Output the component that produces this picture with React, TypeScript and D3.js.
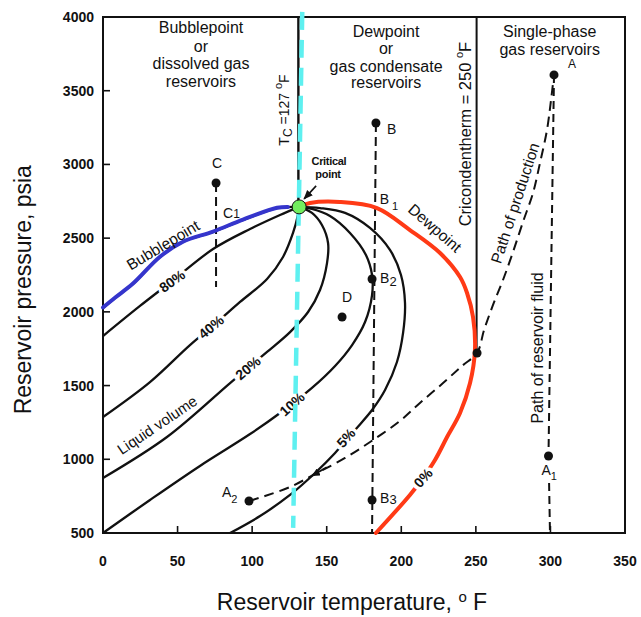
import React from "react";
import * as d3 from "d3";

type Pt = [number, number];

const W = 641;
const H = 617;
const xDomain: Pt = [0, 350];
const yDomain: Pt = [500, 4000];
const xTicks = [0, 50, 100, 150, 200, 250, 300, 350];
const yTicks = [500, 1000, 1500, 2000, 2500, 3000, 3500, 4000];

// Phase envelope (°F, psia)
const criticalPoint: Pt = [131.5, 2712];
const bubblepoint: Pt[] = [[0, 2026], [8, 2094], [20.1, 2189], [38.2, 2372], [53.6, 2474], [73.8, 2542], [93.9, 2623], [116.7, 2704], [131.5, 2712]];
const bubblepointHighlight: Pt[] = [[0, 2030], [8, 2096], [20.1, 2192], [38.2, 2374], [53.6, 2476], [73.8, 2545], [93.9, 2626], [116.7, 2706], [124, 2712]];
const dewpoint: Pt[] = [[131.5, 2712], [138.8, 2738], [158.9, 2745], [183.7, 2704], [205.8, 2555], [226, 2399], [239.4, 2236], [244.1, 2128], [248.1, 1965], [249.4, 1741], [246.1, 1517], [239.4, 1314], [230.7, 1151], [222.6, 995], [214.6, 873], [205.8, 758], [183, 500]];

// Liquid-volume quality lines
const q80: Pt[] = [[0, 1836], [24.8, 2040], [46.3, 2209], [73.8, 2426], [98.6, 2562], [118.7, 2657], [131.5, 2712]];
const q40: Pt[] = [[0, 1287], [31.5, 1524], [58.3, 1775], [75.1, 1918], [91.9, 2067], [110, 2223], [120.7, 2372], [127.4, 2535], [130.7, 2657], [131.5, 2712]];
const q20: Pt[] = [[0, 873], [42.9, 1151], [85.2, 1517], [97.2, 1619], [110, 1728], [125.4, 1863], [137.5, 1999], [145.5, 2148], [150.2, 2331], [150.9, 2467], [146.8, 2589], [140.1, 2671], [131.5, 2712]];
const q10: Pt[] = [[0, 500], [31.5, 724], [65, 955], [98.6, 1171], [118.7, 1314], [140.1, 1484], [155.6, 1633], [167, 1775], [175.7, 1931], [180.4, 2114], [180.4, 2250], [176.3, 2386], [165.6, 2535], [152.2, 2650], [140.1, 2698], [131.5, 2712]];
const q5: Pt[] = [[85.2, 500], [105.3, 615], [125.4, 758], [142.2, 907], [155.6, 1043], [169, 1199], [180.4, 1334], [189.1, 1470], [197.1, 1660], [201.2, 1857], [202.5, 2060], [199.8, 2250], [192.4, 2420], [179, 2569], [162.3, 2671], [145.5, 2704], [131.5, 2712]];

// Paths and reference lines
const productionPath: Pt[] = [[97.9, 717], [108.6, 751], [125.4, 812], [142.2, 900], [162.3, 1009], [181.1, 1131], [199.1, 1260], [212.5, 1382], [228, 1517], [240.7, 1633], [250.8, 1721], [255.5, 1877], [261.5, 2047], [268.2, 2216], [274.9, 2406], [281.6, 2610], [288.3, 2806], [293, 3010], [297.7, 3234], [300.4, 3437], [302.4, 3607]];
const productionArrow: Pt[] = [[150, 946], [140.5, 890]];
const reservoirFluidUpper: Pt[] = [[302.4, 3607], [298.7, 1022]];
const reservoirFluidLower: Pt[] = [[299.1, 839], [299.7, 500]];
const pathB: Pt[] = [[183, 3281], [180.4, 500]];
const pathC: Pt[] = [[75.8, 2874], [75.8, 2169]];
const tcLine: Pt[] = [[131, 4000], [131, 2712]];
const cricondenthermLine: Pt[] = [[250.5, 4000], [250.5, 1741]];
const tcHighlight: Pt[] = [[133.6, 4035], [127.5, 535]];

// Points
const pointNames = ["A", "A1", "A2", "B", "B2", "B3", "C", "D", "X"];
const pointValues: Pt[] = [[302.4, 3607], [298.7, 1022], [97.9, 717], [183, 3281], [180.4, 2223], [180.4, 724], [75.8, 2874], [160.3, 1965], [250.8, 1721]];

// Quality labels
const qualityLabels = ["80%", "40%", "20%", "10%", "5%", "0%"];
const qualityLabelPos: Pt[] = [[46.3, 2209], [72.4, 1898], [97.2, 1619], [126.7, 1375], [162.9, 1145], [214.6, 873]];
const qualityLabelAngle = [-36, -40, -40, -42, -48, -48];

const FONT = "'Liberation Sans', Arial, Helvetica, sans-serif";

export default function App() {
  const x = d3.scaleLinear().domain(xDomain).range([103, 625]);
  const y = d3.scaleLinear().domain(yDomain).range([533, 17]);
  const curve = d3.line<Pt>().x((d) => x(d[0])).y((d) => y(d[1])).curve(d3.curveCatmullRom.alpha(0.5));
  const straight = d3.line<Pt>().x((d) => x(d[0])).y((d) => y(d[1]));

  const P = (i: number) => [x(pointValues[i][0]), y(pointValues[i][1])];
  const [Ax, Ay] = P(0);
  const [A1x, A1y] = P(1);
  const [A2x, A2y] = P(2);
  const [Bx, By] = P(3);
  const [B2x, B2y] = P(4);
  const [B3x, B3y] = P(5);
  const [Cx, Cy] = P(6);
  const [Dx, Dy] = P(7);
  const cpx = x(criticalPoint[0]);
  const cpy = y(criticalPoint[1]);
  const b1x = x(181.5);
  const b1y = y(2700);
  const c1x = x(75.8);
  const c1y = y(2541);

  const header = (lines: string[], T: number, baselines: number[], key: string) => (
    <g key={key}>
      {lines.map((s, i) => (
        <text key={i} x={x(T)} y={y(baselines[i])} textAnchor="middle" fontSize={16} fontFamily={FONT} fill="#111">
          {s}
        </text>
      ))}
    </g>
  );

  const rot = (T: number, Pp: number, a: number) => `translate(${x(T)},${y(Pp)}) rotate(${a})`;

  return (
    <svg width={W} height={H} style={{ position: "absolute", left: 0, top: 0, background: "#fff" }}>
      <defs>
        <marker id="arr" viewBox="0 0 10 10" refX="9" refY="5" markerWidth="6" markerHeight="6" orient="auto">
          <path d="M0,1 L10,5 L0,9 z" fill="#111" />
        </marker>
        <marker id="arr2" viewBox="0 0 10 10" refX="9" refY="5" markerWidth="4" markerHeight="4" orient="auto">
          <path d="M0,0 L10,5 L0,10 z" fill="#111" />
        </marker>
      </defs>
      <rect x={0} y={0} width={W} height={H} fill="#fff" />

      {/* frame */}
      <rect x={x(0)} y={y(4000)} width={x(350) - x(0)} height={y(500) - y(4000)} fill="none" stroke="#111" strokeWidth={2} />
      {xTicks.slice(1, -1).map((t) => (
        <line key={t} x1={x(t)} x2={x(t)} y1={y(500)} y2={y(500) - 7} stroke="#111" strokeWidth={1.6} />
      ))}
      {yTicks.slice(1, -1).map((t) => (
        <line key={t} x1={x(0)} x2={x(0) + 7} y1={y(t)} y2={y(t)} stroke="#111" strokeWidth={1.6} />
      ))}
      {xTicks.map((t) => (
        <text key={t} x={x(t)} y={566} textAnchor="middle" fontSize={14} fontWeight="bold" fontFamily={FONT} fill="#111">
          {t}
        </text>
      ))}
      {yTicks.map((t) => (
        <text key={t} x={94} y={y(t) + 5} textAnchor="end" fontSize={14} fontWeight="bold" fontFamily={FONT} fill="#111">
          {t}
        </text>
      ))}
      <text x={352} y={610} textAnchor="middle" fontSize={23} fontFamily={FONT} fill="#111">
        Reservoir temperature, <tspan dy={-8} fontSize={15}>o</tspan><tspan dy={8}> F</tspan>
      </text>
      <text transform={`translate(31,${y(2150)}) rotate(-90)`} textAnchor="middle" fontSize={23} fontFamily={FONT} fill="#111">
        Reservoir pressure, psia
      </text>

      {/* vertical reference lines */}
      <path d={straight(tcLine)!} stroke="#111" strokeWidth={2.4} fill="none" />
      <path d={straight(cricondenthermLine)!} stroke="#111" strokeWidth={2} fill="none" />

      {/* quality lines */}
      {[q80, q40, q20, q10, q5].map((q, i) => (
        <path key={i} d={curve(q)!} stroke="#111" strokeWidth={2.3} fill="none" />
      ))}
      <path d={curve(bubblepoint)!} stroke="#111" strokeWidth={2.3} fill="none" />
      <path d={curve(dewpoint)!} stroke="#111" strokeWidth={2.3} fill="none" />

      {/* dashed paths */}
      <path d={curve(productionPath)!} stroke="#111" strokeWidth={2} strokeDasharray="10,6" fill="none" />
      <path d={straight(productionArrow)!} stroke="#111" strokeWidth={2} fill="none" markerEnd="url(#arr2)" />
      <path d={straight(reservoirFluidUpper)!} stroke="#111" strokeWidth={2} strokeDasharray="8,5" fill="none" />
      <path d={straight(reservoirFluidLower)!} stroke="#111" strokeWidth={2} strokeDasharray="8,5" fill="none" />
      <path d={straight(pathB)!} stroke="#111" strokeWidth={2} strokeDasharray="9,5" fill="none" />
      <path d={straight(pathC)!} stroke="#111" strokeWidth={2} strokeDasharray="9,5" fill="none" />

      {/* coloured highlights */}
      <path d={curve(bubblepointHighlight)!} stroke="#3535cc" strokeWidth={4} fill="none" strokeLinecap="round" />
      <path d={curve(dewpoint)!} stroke="#ff3a16" strokeWidth={4} fill="none" strokeLinecap="round" />

      {/* quality labels with white halo */}
      {qualityLabels.map((s, i) => (
        <text
          key={s}
          transform={rot(qualityLabelPos[i][0], qualityLabelPos[i][1], qualityLabelAngle[i])}
          textAnchor="middle"
          dominantBaseline="central"
          fontSize={14}
          fontWeight="bold"
          fontFamily={FONT}
          fill="#111"
          stroke="#fff"
          strokeWidth={7}
          paintOrder="stroke"
        >
          {s}
        </text>
      ))}

      {/* points */}
      {pointValues.map((p, i) => (
        <circle key={pointNames[i]} cx={x(p[0])} cy={y(p[1])} r={4.5} fill="#111" />
      ))}

      {/* point labels */}
      <text x={Ax + 18} y={Ay - 7} textAnchor="middle" fontSize={12} fontFamily={FONT} fill="#111">A</text>
      <text x={A1x - 7} y={A1y + 19} fontSize={14} fontFamily={FONT} fill="#111">A<tspan dy={5} fontSize={11}>1</tspan></text>
      <text x={A2x - 27} y={A2y - 4} fontSize={14} fontFamily={FONT} fill="#111">A<tspan dy={6} fontSize={11}>2</tspan></text>
      <text x={Bx + 11} y={By + 11} fontSize={14} fontFamily={FONT} fill="#111">B</text>
      <text x={b1x + 6} y={b1y - 5} fontSize={14} fontFamily={FONT} fill="#111">B<tspan dy={6} dx={3} fontSize={11}>1</tspan></text>
      <text x={B2x + 8} y={B2y + 4} fontSize={14} fontFamily={FONT} fill="#111">B<tspan dy={3} fontSize={13}>2</tspan></text>
      <text x={B3x + 8} y={B3y + 3} fontSize={14} fontFamily={FONT} fill="#111">B<tspan dy={1} fontSize={13}>3</tspan></text>
      <text x={Cx + 1} y={Cy - 15} textAnchor="middle" fontSize={14} fontFamily={FONT} fill="#111">C</text>
      <text x={c1x + 7} y={c1y - 14} fontSize={14} fontFamily={FONT} fill="#111">C<tspan fontSize={12}>1</tspan></text>
      <text x={Dx + 5} y={Dy - 15} textAnchor="middle" fontSize={14} fontFamily={FONT} fill="#111">D</text>

      {/* region headers */}
      {header(["Bubblepoint", "or", "dissolved gas", "reservoirs"], 65.7, [3891, 3763, 3647, 3525], "h1")}
      {header(["Dewpoint", "or", "gas condensate", "reservoirs"], 189.8, [3864, 3749, 3627, 3518], "h2")}
      {header(["Single-phase", "gas reservoirs"], 299.5, [3864, 3742], "h3")}

      {/* rotated annotations */}
      <text transform={rot(121.4, 3369, -90)} textAnchor="middle" dominantBaseline="central" fontSize={14} fontFamily={FONT} fill="#111">
        T<tspan dy={4} fontSize={12}>C</tspan><tspan dy={-4}> =127 </tspan><tspan dy={-6} fontSize={11}>o</tspan><tspan dy={6}>F</tspan>
      </text>
      <text transform={rot(242.7, 3206, -90)} textAnchor="middle" dominantBaseline="central" fontSize={16.5} fontFamily={FONT} fill="#111">
        Cricondentherm = 250 <tspan dy={-6} fontSize={11}>o</tspan><tspan dy={6}>F</tspan>
      </text>
      <text transform={rot(291, 1755, -90)} textAnchor="middle" dominantBaseline="central" fontSize={16} fontFamily={FONT} fill="#111">
        Path of reservoir fluid
      </text>
      <text transform={rot(276.3, 2738, -72)} textAnchor="middle" dominantBaseline="central" fontSize={15.5} fontFamily={FONT} fill="#111">
        Path of production
      </text>
      <text transform={rot(222.6, 2569, 41)} textAnchor="middle" dominantBaseline="central" fontSize={15.5} fontFamily={FONT} fill="#111">
        Dewpoint
      </text>
      <text transform={rot(40.2, 2453, -31)} textAnchor="middle" dominantBaseline="central" fontSize={15.5} fontFamily={FONT} fill="#111">
        Bubblepoint
      </text>
      <text transform={rot(36.2, 1233, -34)} textAnchor="middle" dominantBaseline="central" fontSize={15} fontFamily={FONT} fill="#111">
        Liquid volume
      </text>

      {/* critical point label */}
      <text x={x(151.5)} y={y(3023)} textAnchor="middle" dominantBaseline="central" fontSize={11} fontWeight="bold" fontFamily={FONT} fill="#111" letterSpacing={-0.3}>
        Critical
      </text>
      <text x={x(150.9)} y={y(2932)} textAnchor="middle" dominantBaseline="central" fontSize={11} fontWeight="bold" fontFamily={FONT} fill="#111" letterSpacing={-0.3}>
        point
      </text>
      <line x1={cpx + 17} y1={cpy - 21} x2={cpx + 5} y2={cpy - 8} stroke="#111" strokeWidth={1.6} markerEnd="url(#arr)" />

      {/* cyan Tc highlight */}
      <path d={straight(tcHighlight)!} stroke="#5ef0f0" strokeWidth={4.5} strokeDasharray="18,10" fill="none" />

      {/* critical point */}
      <circle cx={cpx} cy={cpy} r={7} fill="#72ee5e" stroke="#111" strokeWidth={1} />
    </svg>
  );
}
